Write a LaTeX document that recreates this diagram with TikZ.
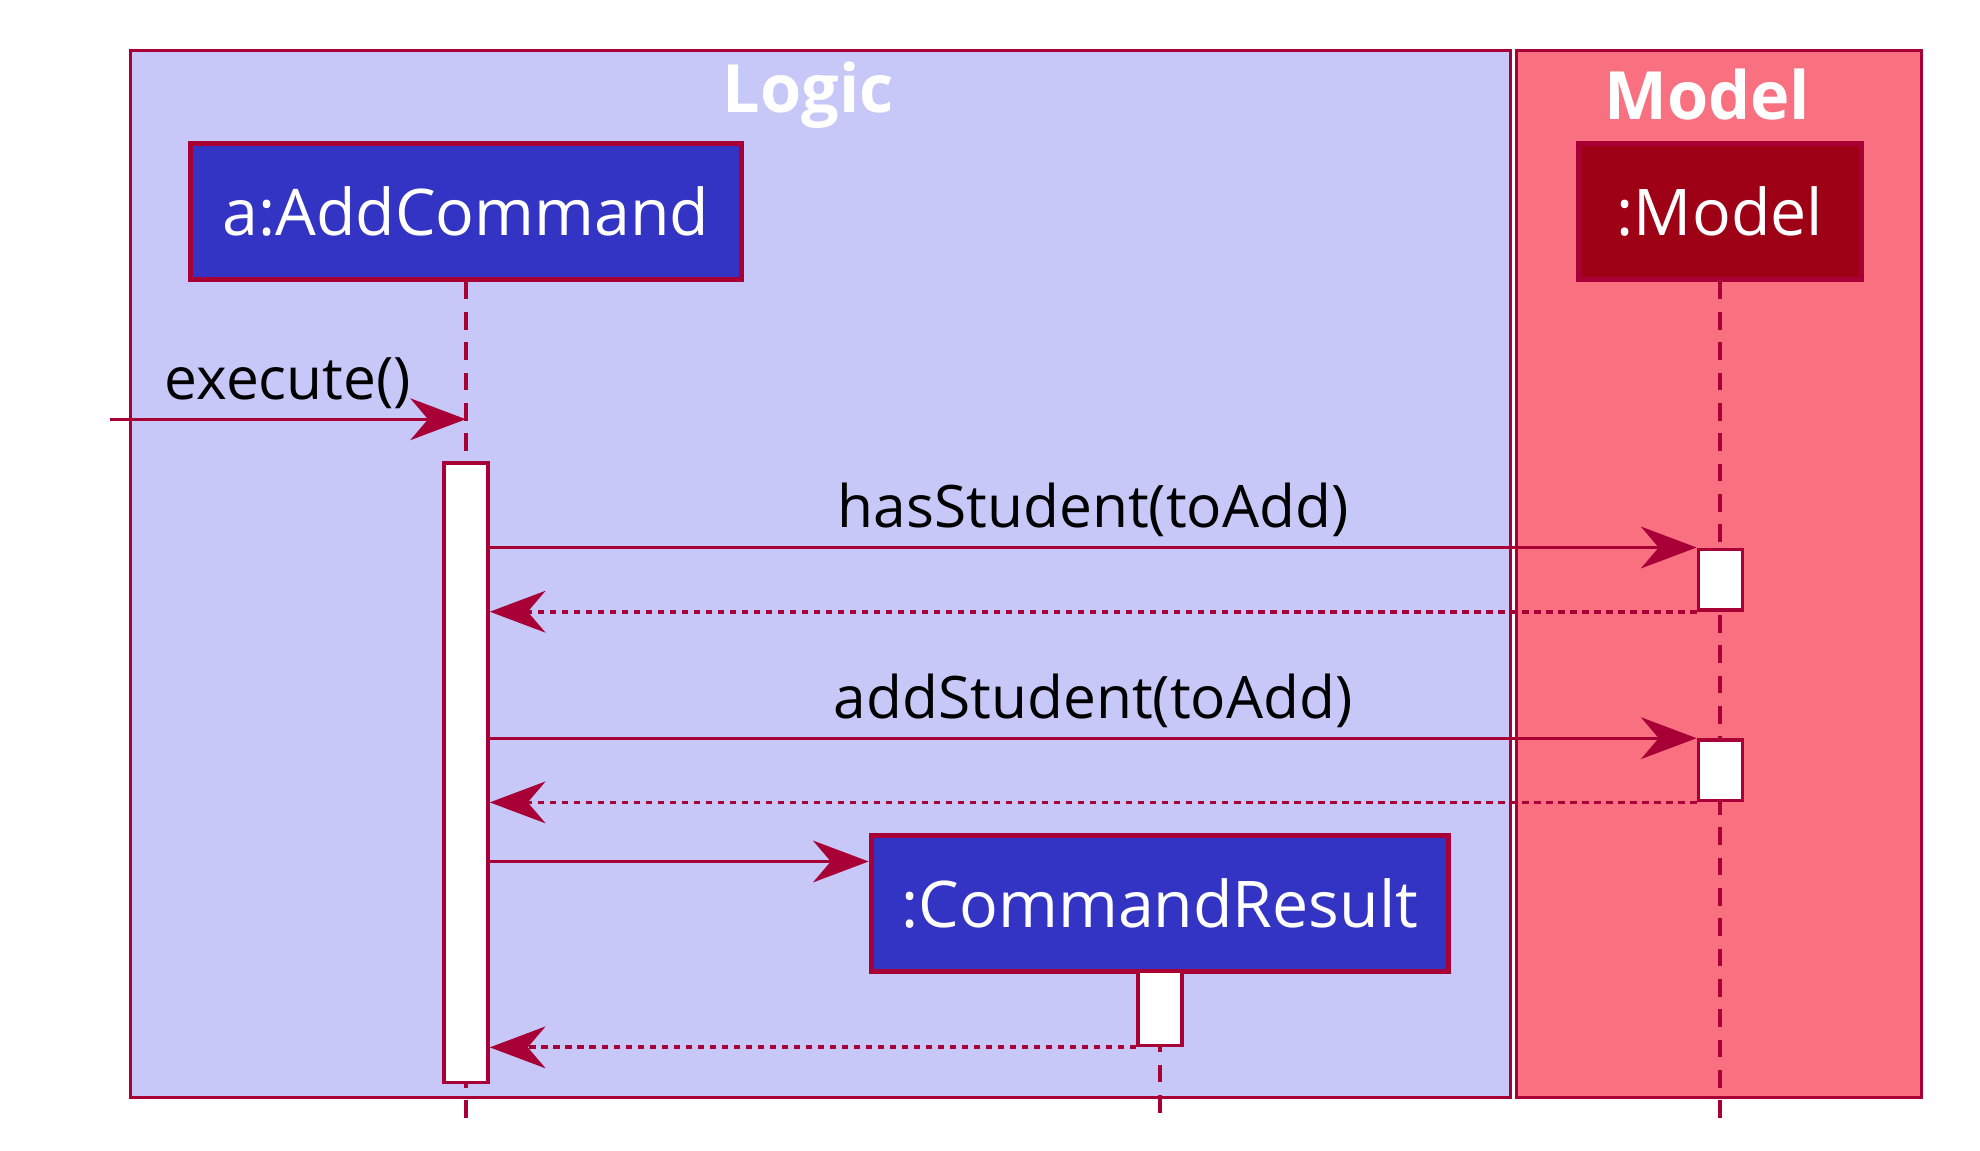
\documentclass[tikz,border=0pt]{standalone}
\usepackage{fontspec}
\setmainfont{Open Sans}
\usetikzlibrary{arrows.meta,calc}

\definecolor{umlred}{HTML}{A80036}
\definecolor{logicfill}{HTML}{C8C8F8}
\definecolor{modelfill}{HTML}{F97181}
\definecolor{partblue}{HTML}{3333C4}
\definecolor{partdark}{HTML}{9E0016}

\tikzset{
    frame/.style={draw=umlred, line width=0.7pt},
    frametitle/.style={text=white, font=\fontsize{15}{18}\selectfont\bfseries},
    participant/.style={draw=umlred, line width=1.1pt, text=white, inner sep=0pt,
        minimum height=1.07cm, font=\fontsize{14.5}{17}\selectfont},
    activation/.style={draw=umlred, fill=white, line width=0.8pt, inner sep=0pt, minimum width=0.35cm},
    lifeline/.style={draw=umlred, line width=0.75pt, dash pattern=on 0.14cm off 0.1cm},
    msg/.style={draw=umlred, line width=0.75pt, -{Stealth[length=0.44cm, width=0.33cm, inset=0.14cm]}},
    reply/.style={msg, line width=0.85pt, dash pattern=on 0.05cm off 0.045cm},
    msglabel/.style={font=\fontsize{13.2}{16}\selectfont, inner sep=2pt}
}

\begin{document}
\begin{tikzpicture}[x=0.01cm, y=-0.01cm]
        \useasboundingbox (0,0) rectangle (1568,911);

        % Draw the two groups
        \draw[frame, fill=logicfill] (103,40) rectangle (1196,869);
        \node[frametitle] (logic) at (640,75) {Logic};
        \draw[frame, fill=modelfill] (1201,40) rectangle (1522,869);
        \node[frametitle] (modeltitle) at (1352,75) {Model};

        % Participants
        \node[participant, fill=partblue, minimum width=4.36cm] (acmd) at (369,167.5) {a:AddCommand};
        \node[participant, fill=partdark, minimum width=2.24cm] (model) at (1362,167.5) {:Model};
        \node[participant, fill=partblue, minimum width=4.57cm] (cres) at (918.5,715.5) {:CommandResult};

        % Lifelines
        \coordinate (endA) at (368,890);
        \coordinate (endM) at (1362,890);
        \coordinate (endC) at (917,890);
        \draw[lifeline] (acmd.south) -- (acmd.south |- endA);
        \draw[lifeline] (model.south) -- (model.south |- endM);
        \draw[lifeline] (cres.south) -- (cres.south |- endC);

        % Activation bars
        \node[activation, minimum height=4.9cm] (actA) at (369,612) {};
        \node[activation, minimum height=0.48cm] (actM1) at (1362.5,459) {};
        \node[activation, minimum height=0.48cm] (actM2) at (1362.5,610) {};
        \node[activation, minimum height=0.59cm] (actC) at (918.5,798.5) {};

        % Messages
        \coordinate (caller) at (87,332);
        \draw[msg] (caller) -- node[msglabel, above] (exec) {execute()} (acmd.south |- caller);

        \draw[msg] (actA.east |- actM1.north) -- node[msglabel, above] (has) {hasStudent(toAdd)} (actM1.north west);
        \draw[reply] (actM1.south west) -- (actA.east |- actM1.south);

        \draw[msg] (actA.east |- actM2.north) -- node[msglabel, above] (add) {addStudent(toAdd)} (actM2.north west);
        \draw[reply] (actM2.south west) -- (actA.east |- actM2.south);

        \coordinate (create) at ($(cres.north west)!0.2!(cres.south west)$);
        \draw[msg] (actA.east |- create) -- (create);
        \draw[reply] (actC.south west) -- (actA.east |- actC.south);
    \end{tikzpicture}
\end{document}
